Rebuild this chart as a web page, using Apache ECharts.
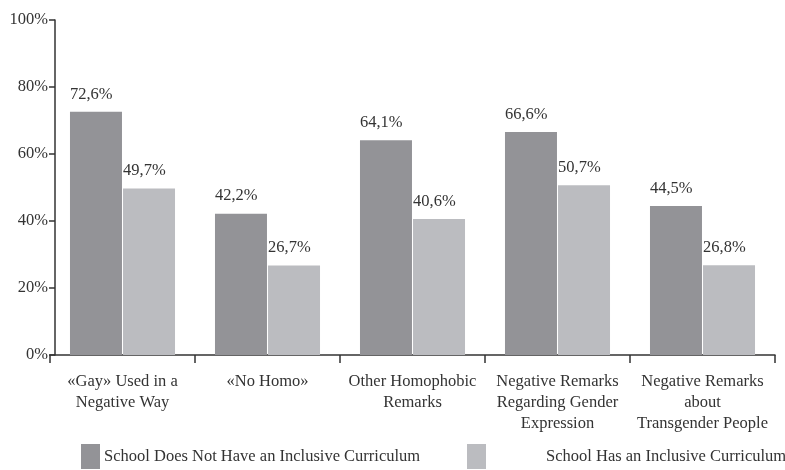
<!DOCTYPE html>
<html>
<head>
<meta charset="utf-8">
<script src="https://cdn.jsdelivr.net/npm/echarts@6/dist/echarts.min.js"></script>
<style>
  html, body { margin: 0; padding: 0; background: #fff; }
  #chart { width: 785px; height: 470px; }
</style>
</head>
<body>
<div id="chart"></div>
<script>
// Share of students hearing each remark, by curriculum type
const categories = [
  '«Gay» Used in a\nNegative Way',
  '«No Homo»',
  'Other Homophobic\nRemarks',
  'Negative Remarks\nRegarding Gender\nExpression',
  'Negative Remarks\nabout\nTransgender People'
];
const seriesNames = [
  'School Does Not Have an Inclusive Curriculum',
  'School Has an Inclusive Curriculum'
];
const noCurriculum = [72.6, 42.2, 64.1, 66.6, 44.5];
const withCurriculum = [49.7, 26.7, 40.6, 50.7, 26.8];
const yTicks = [0, 20, 40, 60, 80, 100];

const FONT = '"Liberation Serif", "DejaVu Serif", serif';
const FS = 16.5;
const TEXT = '#333333';
const DARK = '#939397';
const LIGHT = '#bbbcc0';

const pct = v => String(v).replace('.', ',') + '%';

const barLabel = {
  show: true,
  position: [0, -9],
  align: 'left',
  verticalAlign: 'bottom',
  fontFamily: FONT,
  fontSize: FS,
  color: TEXT,
  formatter: p => pct(p.value)
};

const legendBase = {
  top: 444,
  padding: 0,
  itemWidth: 19, itemHeight: 25, itemGap: 0,
  icon: 'rect'
};

const chart = echarts.init(document.getElementById('chart'));
chart.setOption({
  animation: false,
  backgroundColor: '#ffffff',
  textStyle: { fontFamily: FONT, color: TEXT },
  grid: { left: 50, right: 10, top: 20, bottom: 115 },
  legend: [
    Object.assign({}, legendBase, {
      data: [seriesNames[0]],
      left: 81,
      textStyle: { fontFamily: FONT, fontSize: FS, color: TEXT, padding: [6, 0, 0, -1] }
    }),
    Object.assign({}, legendBase, {
      data: [seriesNames[1]],
      left: 467,
      textStyle: { fontFamily: FONT, fontSize: FS, color: TEXT, padding: [6, 0, 0, 55] }
    })
  ],
  xAxis: {
    type: 'category',
    data: categories,
    axisLine: { lineStyle: { color: '#333', width: 1.5 } },
    axisTick: { show: true, length: 8, lineStyle: { color: '#333', width: 1.5 } },
    axisLabel: {
      interval: 0,
      margin: 16,
      fontFamily: FONT,
      fontSize: FS,
      lineHeight: 21,
      color: TEXT,
      verticalAlign: 'top'
    }
  },
  yAxis: {
    type: 'value',
    offset: -5,
    min: yTicks[0],
    max: yTicks[yTicks.length - 1],
    interval: 20,
    splitLine: { show: false },
    axisLine: { show: true, lineStyle: { color: '#333', width: 1.5 } },
    axisTick: { show: true, length: 6, lineStyle: { color: '#333', width: 1.5 } },
    axisLabel: {
      margin: 7,
      fontFamily: FONT,
      fontSize: FS,
      color: TEXT,
      formatter: v => v + '%'
    }
  },
  series: [
    {
      name: seriesNames[0],
      type: 'bar',
      data: noCurriculum,
      barWidth: 52,
      barGap: '2%',
      itemStyle: { color: DARK },
      label: barLabel
    },
    {
      name: seriesNames[1],
      type: 'bar',
      data: withCurriculum,
      barWidth: 52,
      barGap: '2%',
      itemStyle: { color: LIGHT },
      label: barLabel
    }
  ]
});
</script>
</body>
</html>
